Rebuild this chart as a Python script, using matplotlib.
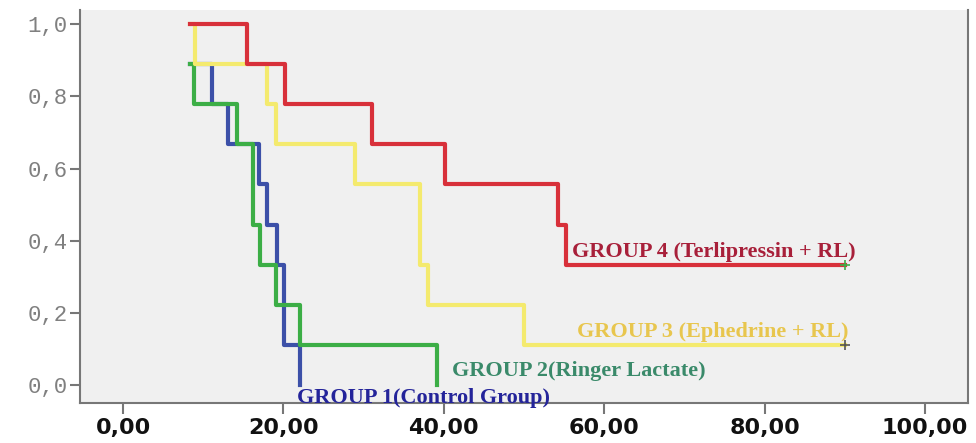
import matplotlib.pyplot as plt

# survival curves (Kaplan-Meier steps), time vs cumulative survival
t_g1 = [8.4, 11.1, 13.1, 16.9, 18.0, 19.2, 20.1, 22.1]
s_g1 = [0.889, 0.778, 0.667, 0.556, 0.444, 0.333, 0.111, 0.0]

t_g2 = [8.4, 8.9, 14.2, 16.2, 17.1, 19.1, 22.1, 39.2]
s_g2 = [0.889, 0.778, 0.667, 0.444, 0.333, 0.222, 0.111, 0.0]

t_g3 = [8.4, 9.0, 18.0, 19.1, 28.9, 37.0, 38.0, 50.0, 90.0]
s_g3 = [1.0, 0.889, 0.778, 0.667, 0.556, 0.333, 0.222, 0.111, 0.111]

t_g4 = [8.4, 15.4, 20.2, 31.0, 40.1, 54.2, 55.3, 90.0]
s_g4 = [1.0, 0.889, 0.778, 0.667, 0.556, 0.444, 0.333, 0.333]

labels = ['GROUP 1(Control Group)', 'GROUP 2(Ringer Lactate)',
          'GROUP 3 (Ephedrine + RL)', 'GROUP 4 (Terlipressin + RL)']

xticks = [0, 20, 40, 60, 80, 100]
yticks = [0.0, 0.2, 0.4, 0.6, 0.8, 1.0]

fig = plt.figure(figsize=(9.76, 4.43), dpi=100)
ax = fig.add_axes([0.082, 0.090, 0.910, 0.887])
ax.set_facecolor('#f0f0f0')

ax.step(t_g1, s_g1, where='post', color='#3c50a8', lw=3)
ax.step(t_g2, s_g2, where='post', color='#3cae46', lw=3)
ax.step(t_g3, s_g3, where='post', color='#f4ea6e', lw=3)
ax.step(t_g4, s_g4, where='post', color='#d8303a', lw=3)

# censored cases
ax.plot(t_g4[-1], s_g4[-1], marker='+', color='#3cae46', ms=7, mew=1.2)
ax.plot(t_g3[-1], s_g3[-1], marker='+', color='#555555', ms=7, mew=1.2)

txt = dict(family='Liberation Serif', weight='bold', fontsize=16, va='center', ha='left')
ax.text(21.7, -0.035, labels[0], color='#24249a', **txt)
ax.text(41.0, 0.039, labels[1], color='#3a8a6a', **txt)
ax.text(56.6, 0.146, labels[2], color='#e8c64e', **txt)
ax.text(56.0, 0.368, labels[3], color='#a8203a', **txt)

ax.set_xlim(-5.36, 105.4)
ax.set_ylim(-0.05, 1.039)
ax.set_xticks(xticks)
ax.set_xticklabels([('%.2f' % v).replace('.', ',') for v in xticks],
                   fontsize=16, fontweight='bold', color='#111111')
ax.set_yticks(yticks)
ax.set_yticklabels([('%.1f' % v).replace('.', ',') for v in yticks],
                   fontsize=16, family='Liberation Mono', color='#808080')

ax.tick_params(axis='x', length=8, width=1.5, color='#777777', pad=3)
ax.tick_params(axis='y', length=7, width=1.5, color='#777777', pad=2)
ax.spines['top'].set_visible(False)
for s in ['left', 'bottom', 'right']:
    ax.spines[s].set_color('#777777')
    ax.spines[s].set_linewidth(1.5)

plt.savefig('out.png', dpi=100)
